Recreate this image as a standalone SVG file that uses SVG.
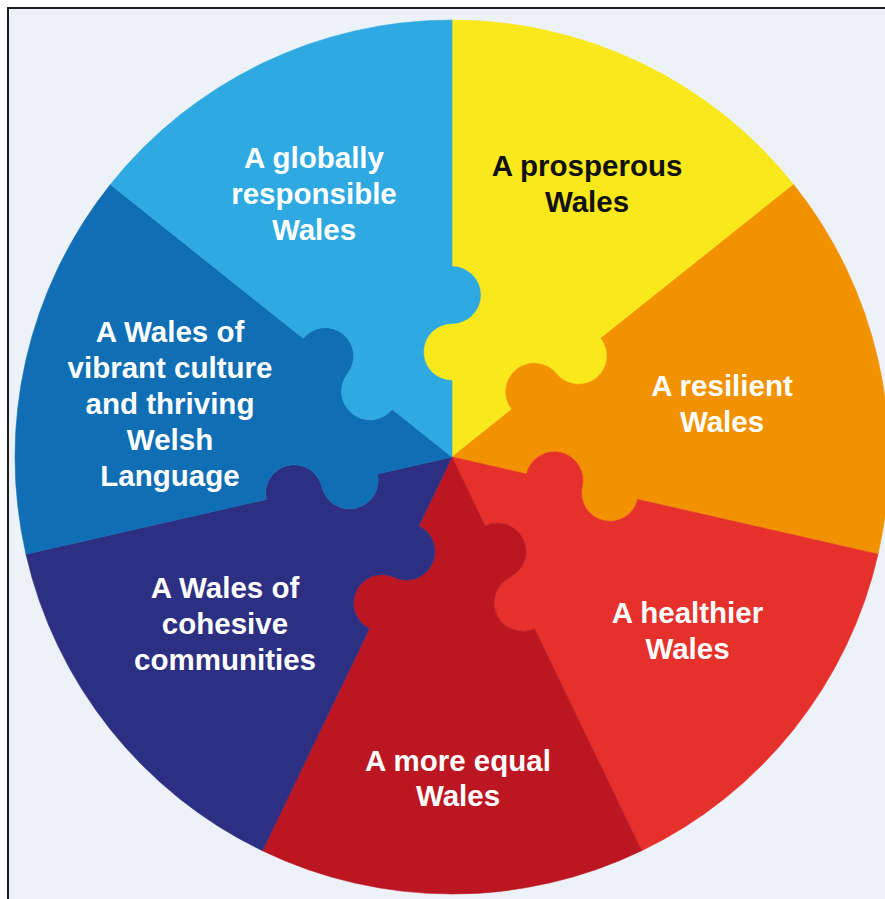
<svg xmlns="http://www.w3.org/2000/svg" width="885" height="899" viewBox="0 0 885 899">
<style>
.seg{stroke-width:0.6;stroke-linejoin:round}
.lbl{font-family:"Liberation Sans",Arial,Helvetica,sans-serif;font-weight:bold;font-size:29.5px;text-anchor:middle;fill:#ffffff}
.dark{fill:#111111}
</style>
<rect x="0" y="0" width="885" height="899" fill="#ffffff"/>
<rect id="frame" x="8" y="8" width="900" height="910" fill="#EDF2F9" stroke="#1E1E1E" stroke-width="2"/>
<g id="connectors"/>
<g id="prosperous">
<path class="seg" fill="#F8E81C" stroke="#F8E81C" d="M452,457 L452,380.5 A28.5,28.5 0 0 1 452,323.5 A28.5,28.5 0 0 0 452,266.5 L452,20 A437,437 0 0 1 793.66,184.53 L600.94,338.23 A28.5,28.5 0 0 1 556.37,373.76 A28.5,28.5 0 0 0 511.81,409.3 Z"/>
<text class="lbl dark" x="587" y="176">A prosperous</text>
<text class="lbl dark" x="587" y="212">Wales</text>
</g>
<g id="resilient">
<path class="seg" fill="#F29200" stroke="#F29200" d="M452,457 L511.81,409.3 A28.5,28.5 0 0 1 556.37,373.76 A28.5,28.5 0 0 0 600.94,338.23 L793.66,184.53 A437,437 0 0 1 878.04,554.24 L637.72,499.39 A28.5,28.5 0 0 1 582.15,486.71 A28.5,28.5 0 0 0 526.58,474.02 Z"/>
<text class="lbl" x="722" y="396">A resilient</text>
<text class="lbl" x="722" y="432">Wales</text>
</g>
<g id="healthier">
<path class="seg" fill="#E5302B" stroke="#E5302B" d="M452,457 L526.58,474.02 A28.5,28.5 0 0 1 582.15,486.71 A28.5,28.5 0 0 0 637.72,499.39 L878.04,554.24 A437,437 0 0 1 641.61,850.72 L534.65,628.63 A28.5,28.5 0 0 1 509.92,577.28 A28.5,28.5 0 0 0 485.19,525.92 Z"/>
<text class="lbl" x="687.5" y="623">A healthier</text>
<text class="lbl" x="687.5" y="659">Wales</text>
</g>
<g id="more-equal">
<path class="seg" fill="#BC1622" stroke="#BC1622" d="M452,457 L485.19,525.92 A28.5,28.5 0 0 1 509.92,577.28 A28.5,28.5 0 0 0 534.65,628.63 L641.61,850.72 A437,437 0 0 1 262.39,850.72 L369.35,628.63 A28.5,28.5 0 0 1 394.08,577.28 A28.5,28.5 0 0 0 418.81,525.92 Z"/>
<text class="lbl" x="458" y="771">A more equal</text>
<text class="lbl" x="458" y="806">Wales</text>
</g>
<g id="cohesive">
<path class="seg" fill="#2D2F82" stroke="#2D2F82" d="M452,457 L418.81,525.92 A28.5,28.5 0 0 1 394.08,577.28 A28.5,28.5 0 0 0 369.35,628.63 L262.39,850.72 A437,437 0 0 1 25.96,554.24 L266.28,499.39 A28.5,28.5 0 0 1 321.85,486.71 A28.5,28.5 0 0 0 377.42,474.02 Z"/>
<text class="lbl" x="225" y="598">A Wales of</text>
<text class="lbl" x="225" y="634">cohesive</text>
<text class="lbl" x="225" y="670">communities</text>
</g>
<g id="culture">
<path class="seg" fill="#106EB4" stroke="#106EB4" d="M452,457 L377.42,474.02 A28.5,28.5 0 0 1 321.85,486.71 A28.5,28.5 0 0 0 266.28,499.39 L25.96,554.24 A437,437 0 0 1 110.34,184.53 L303.06,338.23 A28.5,28.5 0 0 1 347.63,373.76 A28.5,28.5 0 0 0 392.19,409.3 Z"/>
<text class="lbl" x="170" y="342">A Wales of</text>
<text class="lbl" x="170" y="378">vibrant culture</text>
<text class="lbl" x="170" y="414">and thriving</text>
<text class="lbl" x="170" y="450">Welsh</text>
<text class="lbl" x="170" y="486">Language</text>
</g>
<g id="globally">
<path class="seg" fill="#2EA9E1" stroke="#2EA9E1" d="M452,457 L392.19,409.3 A28.5,28.5 0 0 1 347.63,373.76 A28.5,28.5 0 0 0 303.06,338.23 L110.34,184.53 A437,437 0 0 1 452,20 L452,266.5 A28.5,28.5 0 0 1 452,323.5 A28.5,28.5 0 0 0 452,380.5 Z"/>
<text class="lbl" x="314" y="168">A globally</text>
<text class="lbl" x="314" y="204">responsible</text>
<text class="lbl" x="314" y="240">Wales</text>
</g>
</svg>
